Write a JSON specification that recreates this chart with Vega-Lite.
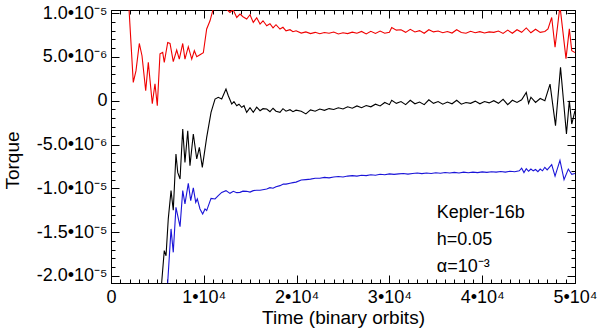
{
  "$schema": "https://vega.github.io/schema/vega-lite/v6.json",
  "width": 464,
  "height": 273,
  "autosize": "none",
  "padding": {"left": 111, "top": 10, "right": 25, "bottom": 51},
  "background": "white",
  "config": {
    "view": {"stroke": "#000", "strokeWidth": 1},
    "axis": {"grid": false, "labelFont": "Liberation Sans", "titleFont": "Liberation Sans", "labelColor": "#000", "titleColor": "#000", "domainColor": "#000", "tickColor": "#000", "titleFontWeight": "normal", "labelFlush": false, "labelOverlap": false, "labelBound": false}
  },
  "datasets": {
    "note": [{"label": "Kepler-16b"}],
    "red": [
      {"t":0,"v":13e-6},{"t":970,"v":13e-6},{"t":1830,"v":12.5e-6},{"t":2400,"v":2.09e-6},{"t":2690,"v":3.4e-6},{"t":3050,"v":6.53e-6},{"t":3340,"v":5.13e-6},{"t":3740,"v":1.14e-6},{"t":4020,"v":4.37e-6},{"t":4450,"v":-0.34e-6},{"t":4740,"v":1.94e-6},{"t":4990,"v":-0.57e-6},{"t":5280,"v":5.36e-6},{"t":5570,"v":5.51e-6},{"t":5740,"v":4.37e-6},{"t":6110,"v":6.65e-6},{"t":6360,"v":6.53e-6},{"t":6710,"v":4.45e-6},{"t":7080,"v":5.78e-6},{"t":7360,"v":4.75e-6},{"t":7730,"v":6.53e-6},{"t":7970,"v":4.75e-6},{"t":8330,"v":6.16e-6},{"t":8700,"v":4.75e-6},{"t":8980,"v":5.7e-6},{"t":9240,"v":5.02e-6},{"t":9590,"v":5.25e-6},{"t":9950,"v":5.47e-6},{"t":10310,"v":8.18e-6},{"t":10670,"v":9.12e-6},{"t":11020,"v":10.5e-6},{"t":11530,"v":10.8e-6},{"t":12180,"v":10.7e-6},{"t":12820,"v":10.07e-6},{"t":13150,"v":10.4e-6},{"t":13550,"v":9.5e-6},{"t":13900,"v":9.89e-6},{"t":14220,"v":9.58e-6},{"t":14620,"v":9.32e-6},{"t":14980,"v":9.81e-6},{"t":15330,"v":8.93e-6},{"t":15700,"v":9.46e-6},{"t":16060,"v":8.75e-6},{"t":16380,"v":9.12e-6},{"t":16780,"v":8.55e-6},{"t":17130,"v":8.78e-6},{"t":17460,"v":8.32e-6},{"t":17780,"v":8.67e-6},{"t":18210,"v":8.18e-6},{"t":18530,"v":8.38e-6},{"t":18860,"v":7.98e-6},{"t":19290,"v":8.1e-6},{"t":19610,"v":7.87e-6},{"t":19940,"v":7.98e-6},
      {"t":20500,"v":7.72e-6},{"t":21000,"v":7.85e-6},{"t":21500,"v":7.66e-6},{"t":22000,"v":7.8e-6},{"t":22500,"v":7.64e-6},{"t":23000,"v":7.78e-6},{"t":23500,"v":7.7e-6},{"t":24000,"v":7.84e-6},{"t":24500,"v":7.62e-6},{"t":25000,"v":7.76e-6},{"t":25500,"v":7.66e-6},{"t":26000,"v":7.82e-6},{"t":26500,"v":7.7e-6},{"t":27000,"v":7.9e-6},{"t":27500,"v":7.62e-6},{"t":28000,"v":7.92e-6},{"t":28500,"v":7.68e-6},{"t":29000,"v":7.95e-6},{"t":29500,"v":7.7e-6},{"t":30000,"v":7.8e-6},{"t":30250,"v":8.36e-6},{"t":30750,"v":8.05e-6},{"t":31250,"v":8.1e-6},{"t":31750,"v":7.8e-6},{"t":32250,"v":8.15e-6},{"t":32750,"v":7.85e-6},{"t":33250,"v":8.0e-6},{"t":33750,"v":7.7e-6},{"t":34250,"v":8.1e-6},{"t":34750,"v":7.85e-6},{"t":35250,"v":7.95e-6},{"t":35750,"v":7.75e-6},{"t":36250,"v":7.9e-6},{"t":36750,"v":7.72e-6},{"t":37250,"v":8.1e-6},{"t":37750,"v":7.78e-6},{"t":38250,"v":7.7e-6},{"t":38750,"v":7.92e-6},{"t":39250,"v":7.75e-6},{"t":39750,"v":7.88e-6},{"t":40250,"v":7.72e-6},{"t":40750,"v":7.85e-6},{"t":41250,"v":7.8e-6},{"t":41750,"v":7.95e-6},{"t":42250,"v":7.68e-6},{"t":42750,"v":8.05e-6},{"t":43250,"v":7.7e-6},{"t":43750,"v":8.1e-6},{"t":44250,"v":7.8e-6},{"t":44750,"v":8.3e-6},{"t":45250,"v":7.75e-6},{"t":45750,"v":8.15e-6},{"t":46250,"v":7.8e-6},{"t":46750,"v":7.9e-6},
      {"t":47090,"v":8.2e-6},{"t":47490,"v":9.5e-6},{"t":47850,"v":6.1e-6},{"t":48380,"v":10.8e-6},{"t":49030,"v":4.8e-6},{"t":49390,"v":8.2e-6},{"t":49650,"v":5.7e-6},{"t":50000,"v":5.5e-6}
    ],
    "black": [
      {"t":0,"v":-30e-6},{"t":5000,"v":-26e-6},{"t":5460,"v":-20.75e-6},{"t":5740,"v":-17.1e-6},{"t":5930,"v":-17.7e-6},{"t":6170,"v":-13.5e-6},{"t":6470,"v":-10.26e-6},{"t":6710,"v":-12.5e-6},{"t":7000,"v":-6.08e-6},{"t":7190,"v":-8.18e-6},{"t":7440,"v":-8.93e-6},{"t":7730,"v":-3.23e-6},{"t":7970,"v":-7.04e-6},{"t":8270,"v":-3.42e-6},{"t":8510,"v":-7.41e-6},{"t":8870,"v":-3.8e-6},{"t":9240,"v":-6.65e-6},{"t":9520,"v":-5.33e-6},{"t":9840,"v":-7.61e-6},{"t":10310,"v":-4.18e-6},{"t":10780,"v":-1.33e-6},{"t":11210,"v":0.19e-6},{"t":11560,"v":0.38e-6},{"t":11930,"v":0.19e-6},{"t":12390,"v":1.33e-6},{"t":12640,"v":0.57e-6},{"t":13010,"v":-0.38e-6},{"t":13250,"v":-0.11e-6},{"t":13550,"v":-0.57e-6},{"t":13790,"v":-0.4e-6},{"t":14080,"v":-0.76e-6},{"t":14330,"v":-0.57e-6},{"t":14620,"v":-1.33e-6},{"t":14980,"v":-0.8e-6},{"t":15330,"v":-1.33e-6},{"t":15700,"v":-0.74e-6},{"t":16060,"v":-1.14e-6},{"t":16380,"v":-0.91e-6},{"t":16780,"v":-0.95e-6},{"t":17130,"v":-1.25e-6},{"t":17460,"v":-0.86e-6},{"t":17780,"v":-1.2e-6},{"t":18210,"v":-1.33e-6},{"t":18530,"v":-0.91e-6},{"t":18860,"v":-1.2e-6},{"t":19290,"v":-1.03e-6},{"t":19610,"v":-1.25e-6},{"t":19940,"v":-1.08e-6},
      {"t":20500,"v":-1.2e-6},{"t":21000,"v":-1.5e-6},{"t":21500,"v":-1.05e-6},{"t":22000,"v":-1.2e-6},{"t":22500,"v":-0.95e-6},{"t":23000,"v":-1.1e-6},{"t":23500,"v":-0.9e-6},{"t":24000,"v":-1.0e-6},{"t":24500,"v":-0.8e-6},{"t":25000,"v":-0.95e-6},{"t":25500,"v":-0.7e-6},{"t":26000,"v":-0.85e-6},{"t":26500,"v":-0.6e-6},{"t":27000,"v":-0.8e-6},{"t":27500,"v":-0.55e-6},{"t":28000,"v":-0.7e-6},{"t":28500,"v":-0.4e-6},{"t":29000,"v":-0.6e-6},{"t":29500,"v":-0.2e-6},{"t":30000,"v":-0.45e-6},{"t":30250,"v":0.05e-6},{"t":30750,"v":-0.3e-6},{"t":31250,"v":-0.1e-6},{"t":31750,"v":-0.45e-6},{"t":32250,"v":0.05e-6},{"t":32750,"v":-0.35e-6},{"t":33250,"v":-0.15e-6},{"t":33750,"v":-0.45e-6},{"t":34250,"v":0.1e-6},{"t":34750,"v":-0.3e-6},{"t":35250,"v":-0.1e-6},{"t":35750,"v":-0.4e-6},{"t":36250,"v":-0.15e-6},{"t":36750,"v":-0.35e-6},{"t":37250,"v":0.05e-6},{"t":37750,"v":-0.4e-6},{"t":38250,"v":-0.2e-6},{"t":38750,"v":-0.3e-6},{"t":39250,"v":-0.05e-6},{"t":39750,"v":-0.35e-6},{"t":40250,"v":-0.1e-6},{"t":40750,"v":-0.25e-6},{"t":41250,"v":0.0},{"t":41750,"v":-0.3e-6},{"t":42250,"v":0.15e-6},{"t":42750,"v":-0.45e-6},{"t":43250,"v":0.05e-6},{"t":43750,"v":-0.2e-6},{"t":44250,"v":0.1e-6},{"t":44750,"v":0.95e-6},{"t":45000,"v":-0.3e-6},{"t":45250,"v":0.4e-6},{"t":45750,"v":-0.2e-6},{"t":46250,"v":0.25e-6},{"t":46750,"v":0.0},
      {"t":47310,"v":1.9e-6},{"t":47900,"v":-2.85e-6},{"t":48440,"v":3.8e-6},{"t":49080,"v":-3.8e-6},{"t":49390,"v":0.0},{"t":49650,"v":-2.66e-6},{"t":50000,"v":-1.14e-6}
    ],
    "blue": [
      {"t":0,"v":-35e-6},{"t":5800,"v":-26e-6},{"t":6470,"v":-14.63e-6},{"t":6710,"v":-17.3e-6},{"t":7000,"v":-12.17e-6},{"t":7440,"v":-14.37e-6},{"t":7730,"v":-10.26e-6},{"t":7970,"v":-11.78e-6},{"t":8330,"v":-9.43e-6},{"t":8590,"v":-11.4e-6},{"t":8870,"v":-9.95e-6},{"t":9130,"v":-11.6e-6},{"t":9300,"v":-11.21e-6},{"t":9590,"v":-12.35e-6},{"t":9880,"v":-12.92e-6},{"t":10130,"v":-12.35e-6},{"t":10310,"v":-12.54e-6},{"t":10780,"v":-11.14e-6},{"t":11210,"v":-11.21e-6},{"t":11560,"v":-10.83e-6},{"t":11930,"v":-10.46e-6},{"t":12390,"v":-10.26e-6},{"t":12820,"v":-10.57e-6},{"t":13180,"v":-10.34e-6},{"t":13550,"v":-10.49e-6},{"t":13900,"v":-10.46e-6},{"t":14220,"v":-10.32e-6},{"t":14620,"v":-10.34e-6},{"t":14980,"v":-10.43e-6},{"t":15330,"v":-10.26e-6},{"t":15700,"v":-10.21e-6},{"t":16060,"v":-10.21e-6},{"t":16780,"v":-10.07e-6},{"t":17130,"v":-9.92e-6},{"t":17460,"v":-9.98e-6},{"t":17780,"v":-9.81e-6},{"t":18210,"v":-9.69e-6},{"t":18570,"v":-9.5e-6},{"t":18860,"v":-9.52e-6},{"t":19290,"v":-9.41e-6},{"t":19610,"v":-9.35e-6},{"t":19940,"v":-9.29e-6},
      {"t":20500,"v":-9.05e-6},{"t":21000,"v":-9.0e-6},{"t":21500,"v":-8.95e-6},{"t":22000,"v":-8.85e-6},{"t":22500,"v":-8.85e-6},{"t":23000,"v":-8.75e-6},{"t":23500,"v":-8.8e-6},{"t":24000,"v":-8.7e-6},{"t":24500,"v":-8.65e-6},{"t":25000,"v":-8.7e-6},{"t":25500,"v":-8.6e-6},{"t":26000,"v":-8.55e-6},{"t":26500,"v":-8.6e-6},{"t":27000,"v":-8.5e-6},{"t":27500,"v":-8.55e-6},{"t":28000,"v":-8.45e-6},{"t":28500,"v":-8.5e-6},{"t":29000,"v":-8.4e-6},{"t":29500,"v":-8.45e-6},{"t":30000,"v":-8.35e-6},{"t":30500,"v":-8.4e-6},{"t":31000,"v":-8.35e-6},{"t":31500,"v":-8.3e-6},{"t":32000,"v":-8.38e-6},{"t":32500,"v":-8.3e-6},{"t":33000,"v":-8.25e-6},{"t":33500,"v":-8.32e-6},{"t":34000,"v":-8.25e-6},{"t":34500,"v":-8.3e-6},{"t":35000,"v":-8.22e-6},{"t":35500,"v":-8.28e-6},{"t":36000,"v":-8.2e-6},{"t":36500,"v":-8.25e-6},{"t":37000,"v":-8.18e-6},{"t":37500,"v":-8.24e-6},{"t":38000,"v":-8.15e-6},{"t":38500,"v":-8.22e-6},{"t":39000,"v":-8.15e-6},{"t":39500,"v":-8.2e-6},{"t":40000,"v":-8.12e-6},{"t":40500,"v":-8.18e-6},{"t":41000,"v":-8.1e-6},{"t":41500,"v":-8.15e-6},{"t":42000,"v":-8.08e-6},{"t":42500,"v":-8.15e-6},{"t":43000,"v":-8.05e-6},{"t":43500,"v":-8.1e-6},{"t":44000,"v":-8.0e-6},{"t":44250,"v":-7.7e-6},{"t":44500,"v":-8.2e-6},{"t":44750,"v":-7.75e-6},{"t":45000,"v":-8.05e-6},{"t":45250,"v":-7.8e-6},{"t":45500,"v":-8.0e-6},{"t":45750,"v":-7.85e-6},{"t":46000,"v":-8.1e-6},{"t":46250,"v":-7.8e-6},{"t":46500,"v":-8.0e-6},{"t":46750,"v":-7.6e-6},{"t":47000,"v":-7.9e-6},
      {"t":47490,"v":-7.3e-6},{"t":47850,"v":-8.6e-6},{"t":48380,"v":-6.8e-6},{"t":48820,"v":-9.0e-6},{"t":49280,"v":-7.8e-6},{"t":49650,"v":-8.4e-6},{"t":50000,"v":-8.3e-6}
    ]
  },
  "layer": [
    {
      "data": {"name": "red"},
      "mark": {"type": "line", "color": "#f00000", "strokeWidth": 1.1, "clip": true},
      "encoding": {
        "x": {"field": "t", "type": "quantitative", "scale": {"domain": [0, 50000], "nice": false, "zero": false},
          "axis": {"orient": "bottom", "values": [0, 10000, 20000, 30000, 40000, 50000], "labelExpr": "datum.value == 0 ? '0' : format(datum.value / 10000, 'd') + '•10⁴'", "ticks": false, "domain": true, "labelFontSize": 18, "labelPadding": 5, "title": "Time (binary orbits)", "titleFontSize": 19, "titlePadding": 2}},
        "y": {"field": "v", "type": "quantitative", "scale": {"domain": [-2.08e-5, 1.035e-5], "nice": false, "zero": false},
          "axis": {"orient": "left", "values": [-2e-5, -1.5e-5, -1e-5, -5e-6, 0, 5e-6, 1e-5], "labelExpr": "datum.value == 0 ? '0' : (datum.value < 0 ? '-' : '') + (abs(datum.value) > 9e-6 ? format(abs(datum.value) * 1e5, '.1f') + '•10⁻⁵' : format(abs(datum.value) * 1e6, '.1f') + '•10⁻⁶')", "ticks": false, "domain": true, "labelFontSize": 18, "labelPadding": 4, "title": "Torque", "titleFontSize": 19, "titleX": -99, "titleY": 150, "titleAngle": -90, "titleAlign": "center", "titleBaseline": "middle"}}
      }
    },
    {
      "data": {"name": "black"},
      "mark": {"type": "line", "color": "#000000", "strokeWidth": 1.1, "clip": true},
      "encoding": {
        "x": {"field": "t", "type": "quantitative", "scale": {"domain": [0, 50000], "nice": false, "zero": false},
          "axis": {"orient": "bottom", "values": [0, 10000, 20000, 30000, 40000, 50000], "labels": false, "domain": false, "tickSize": -8, "title": null}},
        "y": {"field": "v", "type": "quantitative", "scale": {"domain": [-2.08e-5, 1.035e-5], "nice": false, "zero": false},
          "axis": {"orient": "left", "values": [-2e-5, -1.5e-5, -1e-5, -5e-6, 0, 5e-6, 1e-5], "labels": false, "domain": false, "tickSize": -8, "title": null}}
      }
    },
    {
      "data": {"name": "blue"},
      "mark": {"type": "line", "color": "#1a14d8", "strokeWidth": 1.1, "clip": true},
      "encoding": {
        "x": {"field": "t", "type": "quantitative", "scale": {"domain": [0, 50000], "nice": false, "zero": false},
          "axis": {"orient": "bottom", "values": [0,1000,2000,3000,4000,5000,6000,7000,8000,9000,10000,11000,12000,13000,14000,15000,16000,17000,18000,19000,20000,21000,22000,23000,24000,25000,26000,27000,28000,29000,30000,31000,32000,33000,34000,35000,36000,37000,38000,39000,40000,41000,42000,43000,44000,45000,46000,47000,48000,49000,50000], "labels": false, "domain": false, "tickSize": -4, "title": null}},
        "y": {"field": "v", "type": "quantitative", "scale": {"domain": [-2.08e-5, 1.035e-5], "nice": false, "zero": false},
          "axis": {"orient": "left", "values": [-20e-6,-19e-6,-18e-6,-17e-6,-16e-6,-15e-6,-14e-6,-13e-6,-12e-6,-11e-6,-10e-6,-9e-6,-8e-6,-7e-6,-6e-6,-5e-6,-4e-6,-3e-6,-2e-6,-1e-6,0,1e-6,2e-6,3e-6,4e-6,5e-6,6e-6,7e-6,8e-6,9e-6,10e-6], "labels": false, "domain": false, "tickSize": -4, "title": null}}
      }
    },
    {
      "data": {"name": "blue"},
      "mark": {"type": "point", "opacity": 0},
      "encoding": {
        "x": {"field": "t", "type": "quantitative", "scale": {"domain": [0, 50000], "nice": false, "zero": false},
          "axis": {"orient": "top", "values": [0, 10000, 20000, 30000, 40000, 50000], "labels": false, "domain": false, "tickSize": -8, "title": null}},
        "y": {"field": "v", "type": "quantitative", "scale": {"domain": [-2.08e-5, 1.035e-5], "nice": false, "zero": false},
          "axis": {"orient": "right", "values": [-2e-5, -1.5e-5, -1e-5, -5e-6, 0, 5e-6, 1e-5], "labels": false, "domain": false, "tickSize": -8, "title": null}}
      }
    },
    {
      "data": {"name": "blue"},
      "mark": {"type": "point", "opacity": 0},
      "encoding": {
        "x": {"field": "t", "type": "quantitative", "scale": {"domain": [0, 50000], "nice": false, "zero": false},
          "axis": {"orient": "top", "values": [0,1000,2000,3000,4000,5000,6000,7000,8000,9000,10000,11000,12000,13000,14000,15000,16000,17000,18000,19000,20000,21000,22000,23000,24000,25000,26000,27000,28000,29000,30000,31000,32000,33000,34000,35000,36000,37000,38000,39000,40000,41000,42000,43000,44000,45000,46000,47000,48000,49000,50000], "labels": false, "domain": false, "tickSize": -4, "title": null}},
        "y": {"field": "v", "type": "quantitative", "scale": {"domain": [-2.08e-5, 1.035e-5], "nice": false, "zero": false},
          "axis": {"orient": "right", "values": [-20e-6,-19e-6,-18e-6,-17e-6,-16e-6,-15e-6,-14e-6,-13e-6,-12e-6,-11e-6,-10e-6,-9e-6,-8e-6,-7e-6,-6e-6,-5e-6,-4e-6,-3e-6,-2e-6,-1e-6,0,1e-6,2e-6,3e-6,4e-6,5e-6,6e-6,7e-6,8e-6,9e-6,10e-6], "labels": false, "domain": false, "tickSize": -4, "title": null}}
      }
    },
    {
      "data": {"name": "note"},
      "mark": {"type": "text", "text": ["Kepler-16b", "h=0.05", "α=10⁻³"], "align": "left", "baseline": "alphabetic", "font": "Liberation Sans", "fontSize": 18, "lineHeight": 26.7, "color": "#000"},
      "encoding": {
        "x": {"datum": 35100, "type": "quantitative", "scale": {"domain": [0, 50000], "nice": false, "zero": false}, "axis": null},
        "y": {"datum": -1.342e-5, "type": "quantitative", "scale": {"domain": [-2.08e-5, 1.035e-5], "nice": false, "zero": false}, "axis": null}
      }
    }
  ],
  "resolve": {"axis": {"x": "independent", "y": "independent"}}
}
